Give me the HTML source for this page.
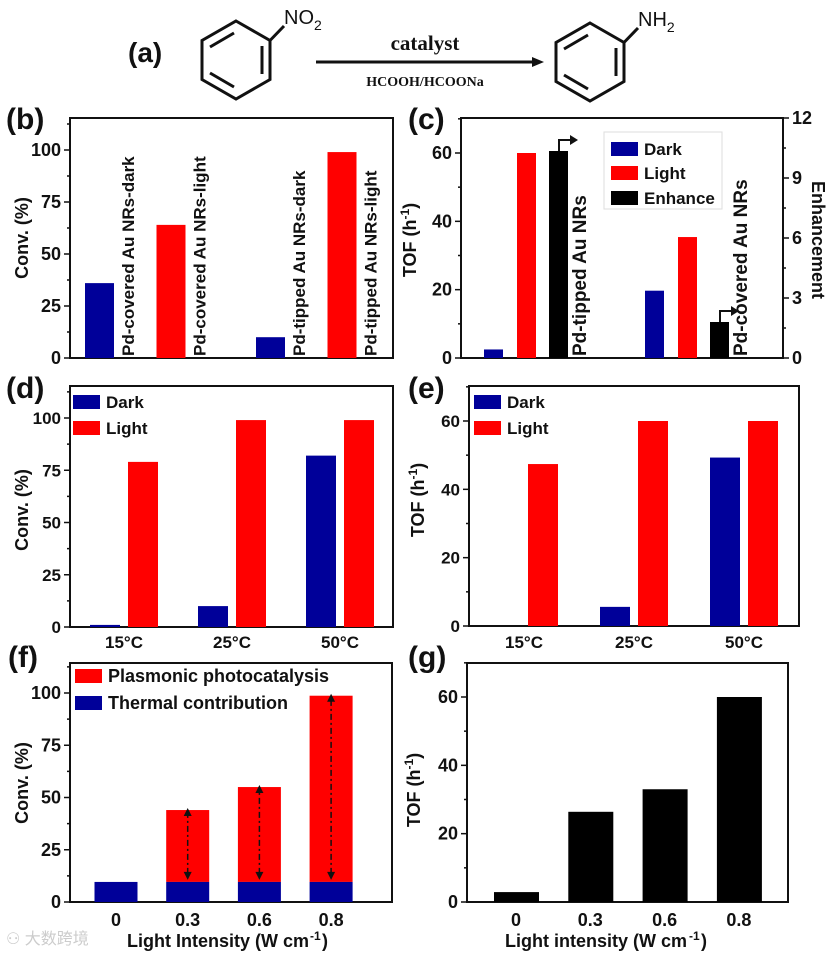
<!DOCTYPE html>
<html><head><meta charset="utf-8"><style>
html,body{margin:0;padding:0;background:#fff;}
svg{display:block;font-family:"Liberation Sans","Noto Sans CJK SC",sans-serif;font-weight:bold;}
</style></head><body>
<svg id="chart" width="827" height="955" viewBox="0 0 827 955" xmlns="http://www.w3.org/2000/svg">
<g fill="none" stroke="#111" stroke-width="3">
<text x="128" y="62" font-size="28" fill="#111" stroke="none">(a)</text>
<polygon points="236,21 270,40.5 270,79.5 236,99 202,79.5 202,40.5"/>
<line x1="262" y1="46" x2="262" y2="74"/><line x1="210" y1="47" x2="234" y2="33"/><line x1="210" y1="73" x2="234" y2="87"/>
<line x1="270" y1="40.5" x2="284" y2="26"/>
<text x="284" y="24" font-size="20" font-weight="normal" fill="#111" stroke="none">NO<tspan font-size="14" dy="6">2</tspan></text>
<line x1="316" y1="62" x2="532" y2="62" stroke-width="3"/>
<polygon points="532,57 544,62 532,67" fill="#111" stroke="none"/>
<text x="425" y="50" text-anchor="middle" font-family="Liberation Serif,serif" font-size="21" fill="#111" stroke="none">catalyst</text>
<text x="425" y="86" text-anchor="middle" font-family="Liberation Serif,serif" font-size="14" fill="#111" stroke="none">HCOOH/HCOONa</text>
<polygon points="590,23 624,42.5 624,81.5 590,101 556,81.5 556,42.5"/>
<line x1="616" y1="48" x2="616" y2="76"/><line x1="564" y1="49" x2="588" y2="35"/><line x1="564" y1="75" x2="588" y2="89"/>
<line x1="624" y1="42.5" x2="638" y2="28"/>
<text x="638" y="26" font-size="20" font-weight="normal" fill="#111" stroke="none">NH<tspan font-size="14" dy="6">2</tspan></text>
</g>
<text x="6" y="944" font-size="16" fill="#ccc" font-weight="normal">⚇ 大数跨境</text>
</svg>
<script>
// ---- data ----
const bCategories=['Pd-covered Au NRs-dark','Pd-covered Au NRs-light','Pd-tipped Au NRs-dark','Pd-tipped Au NRs-light'];
const bValues=[36,64,10,99];
const cGroups=['Pd-tipped Au NRs','Pd-covered Au NRs'];
const cDark=[2.5,19.7];
const cLight=[60,35.4];
const cEnhance=[10.35,1.8];
const tempCategories=['15°C','25°C','50°C'];
const dDark=[1,10,82];
const dLight=[79,99,99];
const eDark=[0,5.6,49.3];
const eLight=[47.4,60,60];
const intensityLabels=['0','0.3','0.6','0.8'];
const fThermal=[9.6,9.6,9.6,9.6];
const fTotal=[9.6,44,55,98.7];
const gValues=[2.9,26.4,33,60];
const convTicks=[0,25,50,75,100];
const tofTicks=[0,20,40,60];
const enhTicks=[0,3,6,9,12];

const NS='http://www.w3.org/2000/svg';
const svg=document.getElementById('chart');
function el(tag,attrs,parent){const e=document.createElementNS(NS,tag);for(const k in attrs)e.setAttribute(k,attrs[k]);(parent||svg).appendChild(e);return e;}
const BLUE='#000099',RED='#ff0000',BLACK='#000';

function panel(name,x0,x1,y0,y1){
  const g=el('g',{});
  
  
  const r=el('rect',{x:x0,y:y0,width:x1-x0,height:y1-y0,fill:'none',stroke:'#111','stroke-width':2},g);
  
  
  return g;
}
function yAxis(g,x,yBase,k,ticks,minor,maxV,side,fs){
  const dir=side==='left'?-1:1;
  for(let v=0;v<=maxV+0.001;v+=minor){
    const major=ticks.indexOf(Math.round(v*100)/100)>=0;
    const y=yBase-v*k;
    el('line',{x1:x,x2:x+dir*(major?6:3),y1:y,y2:y,stroke:'#111','stroke-width':1.5},g);
  }
  ticks.forEach(v=>{
    const t=el('text',{x:x+dir*9,y:yBase-v*k+6,'font-size':fs||18,'text-anchor':side==='left'?'end':'start',fill:'#111'},g);
    t.textContent=v;
    
    
  });
}
function bar(g,x,w,yBase,k,v,fill,name){
  const r=el('rect',{x:x,y:yBase-v*k,width:w,height:v*k,fill:fill},g);
  
  
  return r;
}
function label(g,txt,x,y,fs,name,rot,anchor){
  const t=el('text',{x:x,y:y,'font-size':fs,fill:'#111','text-anchor':anchor||'middle'},g);
  if(rot)t.setAttribute('transform','rotate('+rot+' '+x+' '+y+')');
  t.textContent=txt;
  
  
  return t;
}
function tofTitle(g,x,y){
  const t=el('text',{x:x,y:y,'font-size':18,fill:'#111','text-anchor':'middle',transform:'rotate(-90 '+x+' '+y+')'},g);
  t.innerHTML='TOF (h<tspan font-size="12" dy="-7">-1</tspan><tspan dy="7">)</tspan>';
  
  
}
function swatch(g,x,y,fill,txt,fs,name){
  const r=el('rect',{x:x,y:y,width:27,height:14,fill:fill},g);
  
  
  label(g,txt,x+33,y+13,fs,name+'-label',0,'start');
}

// ---- panel b ----
{const g=panel('panel-b',70,393,118,358);const yb=358,k=2.08;
label(g,'(b)',6,129,30,'panel-label-b',0,'start');
yAxis(g,70,yb,k,convTicks,12.5,112.5,'left');
label(g,'Conv. (%)',28,238,18,'y-axis-title',-90);
const xb=i=>85+i*71.5+(i>=2?28:0);
bValues.forEach((v,i)=>{bar(g,xb(i),29,yb,k,v,i%2?RED:BLUE,'bar-b-'+i);
label(g,bCategories[i],xb(i)+49,yb-2,17,'bar-b-label',-90,'start');});
}
// ---- panel c ----
{const g=panel('panel-c',461,783,118,358);const yb=358,k=205/60,kr=20;
label(g,'(c)',408,129,30,'panel-label-c',0,'start');
yAxis(g,461,yb,k,tofTicks,10,70,'left');
yAxis(g,783,yb,kr,enhTicks,1.5,12,'right');
tofTitle(g,416,240);
label(g,'Enhancement',812,240,18,'right-axis-title',90);
cGroups.forEach((name,i)=>{const c=493+i*161;
bar(g,c-9,19,yb,k,cDark[i],BLUE,'bar-c-dark');
bar(g,c+24,19,yb,k,cLight[i],RED,'bar-c-light');
bar(g,c+56,19,yb,kr,cEnhance[i],BLACK,'bar-c-enhance');
const top=yb-cEnhance[i]*kr, ax=c+66;
el('polyline',{points:ax+','+top+' '+ax+','+(top-11)+' '+(ax+12)+','+(top-11),fill:'none',stroke:'#111','stroke-width':2},g);
el('polygon',{points:(ax+11)+','+(top-16)+' '+(ax+19)+','+(top-11)+' '+(ax+11)+','+(top-6),fill:'#111'},g);
label(g,name,c+93,yb-2,19,'group-label-c',-90,'start');});
const lg=el('g',{},g);


el('rect',{x:604,y:132,width:118,height:77,fill:'#fff',stroke:'#ddd','stroke-width':1},lg);
swatch(lg,611,142,BLUE,'Dark',17,'legend-dark');
swatch(lg,611,166,RED,'Light',17,'legend-light');
swatch(lg,611,191,BLACK,'Enhance',17,'legend-enhance');
}
// ---- panel d ----
{const g=panel('panel-d',70,393,386,627);const yb=627,k=2.09;
label(g,'(d)',6,398,30,'panel-label-d',0,'start');
yAxis(g,70,yb,k,convTicks,12.5,112.5,'left',17);
label(g,'Conv. (%)',28,510,18,'y-axis-title',-90);
tempCategories.forEach((c,i)=>{const cx=124+i*108;
bar(g,cx-34,30,yb,k,dDark[i],BLUE,'bar-d-dark');
bar(g,cx+4,30,yb,k,dLight[i],RED,'bar-d-light');
label(g,c,cx,648,17,'x-tick-label');});
swatch(g,73,395,BLUE,'Dark',17,'legend-d-dark');
swatch(g,73,421,RED,'Light',17,'legend-d-light');
}
// ---- panel e ----
{const g=panel('panel-e',469,799,386,626);const yb=626,k=205/60;
label(g,'(e)',408,398,30,'panel-label-e',0,'start');
yAxis(g,469,yb,k,tofTicks,10,70,'left',17);
tofTitle(g,424,500);
tempCategories.forEach((c,i)=>{const cx=524+i*110;
bar(g,cx-34,30,yb,k,eDark[i],BLUE,'bar-e-dark');
bar(g,cx+4,30,yb,k,eLight[i],RED,'bar-e-light');
label(g,c,cx,648,17,'x-tick-label');});
swatch(g,474,395,BLUE,'Dark',17,'legend-e-dark');
swatch(g,474,421,RED,'Light',17,'legend-e-light');
}
// ---- panel f ----
{const g=panel('panel-f',70,392,663,902);const yb=902,k=2.09;
label(g,'(f)',8,667,30,'panel-label-f',0,'start');
yAxis(g,70,yb,k,convTicks,12.5,112.5,'left');
label(g,'Conv. (%)',28,783,18,'y-axis-title',-90);
intensityLabels.forEach((c,i)=>{const cx=116+i*71.7;
if(fTotal[i]>fThermal[i]){const r=el('rect',{x:cx-21.5,y:yb-fTotal[i]*k,width:43,height:(fTotal[i]-fThermal[i])*k,fill:RED},g);


const y1=yb-fThermal[i]*k-2,y2=yb-fTotal[i]*k-2;
el('line',{x1:cx,x2:cx,y1:y1-6,y2:y2+6,stroke:'#111','stroke-width':1.5,'stroke-dasharray':'6,3,2,3'},g);
el('polygon',{points:(cx-4)+','+(y2+8)+' '+cx+','+y2+' '+(cx+4)+','+(y2+8),fill:'#111'},g);
el('polygon',{points:(cx-4)+','+(y1-8)+' '+cx+','+y1+' '+(cx+4)+','+(y1-8),fill:'#111'},g);}
bar(g,cx-21.5,43,yb,k,fThermal[i],BLUE,'bar-f-thermal');
label(g,c,cx,926,18,'x-tick-label');});
label(g,'Light Intensity (W cm',218,947,18,'x-axis-title');
const sup=el('text',{x:310,y:940,'font-size':12,fill:'#111'},g);sup.textContent='-1';


const cl=el('text',{x:322,y:947,'font-size':18,fill:'#111'},g);cl.textContent=')';


swatch(g,75,669,RED,'Plasmonic photocatalysis',18,'legend-f-photo');
swatch(g,75,696,BLUE,'Thermal contribution',18,'legend-f-thermal');
}
// ---- panel g ----
{const g=panel('panel-g',467,788,663,902);const yb=902,k=205/60;
label(g,'(g)',408,667,30,'panel-label-g',0,'start');
yAxis(g,467,yb,k,tofTicks,10,70,'left');
tofTitle(g,420,790);
gValues.forEach((v,i)=>{const cx=516+i*74.3;
bar(g,cx-22,45,yb,k,v,BLACK,'bar-g');
label(g,intensityLabels[i],cx,926,18,'x-tick-label');});
label(g,'Light intensity (W cm',596,947,18,'x-axis-title');
const sup=el('text',{x:689,y:940,'font-size':12,fill:'#111'},g);sup.textContent='-1';


const cl=el('text',{x:701,y:947,'font-size':18,fill:'#111'},g);cl.textContent=')';


}
</script>
</body></html>
